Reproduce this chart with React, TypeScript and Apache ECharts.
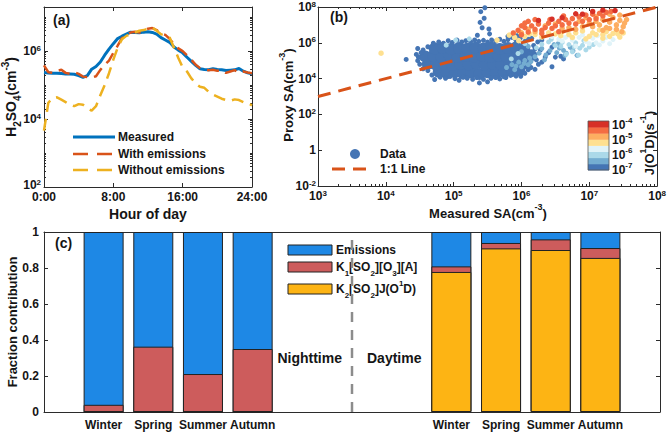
import React, { useEffect, useRef } from 'react';
import * as echarts from 'echarts';

const FONT = '"Liberation Sans", Arial, Helvetica, sans-serif';
const INK = '#151515';
const AXIS = '#2b2b2b';

// ---------- (a) diurnal H2SO4, values are log10(cm^-3) ----------
const hours = [0, 0.5, 1, 1.5, 2, 2.5, 3, 3.5, 4, 4.5, 5, 5.5, 6, 6.5, 7, 7.5, 8, 8.5, 9, 9.5, 10, 10.5, 11, 11.5, 12, 12.5, 13, 13.5, 14, 14.5, 15, 15.5, 16, 16.5, 17, 17.5, 18, 18.5, 19, 19.5, 20, 20.5, 21, 21.5, 22, 22.5, 23, 23.5, 24];
const measuredLog = [5.37, 5.36, 5.35, 5.35, 5.34, 5.33, 5.33, 5.32, 5.28, 5.23, 5.28, 5.47, 5.55, 5.68, 5.88, 6.06, 6.22, 6.37, 6.44, 6.5, 6.56, 6.55, 6.54, 6.56, 6.57, 6.55, 6.5, 6.4, 6.33, 6.26, 6.12, 6.03, 5.95, 5.82, 5.7, 5.58, 5.48, 5.46, 5.45, 5.48, 5.46, 5.45, 5.43, 5.44, 5.45, 5.49, 5.41, 5.36, 5.33];
const withEmissionsLog = [5.58, 5.38, 5.36, 5.42, 5.45, 5.36, 5.33, 5.38, 5.33, 5.25, 5.24, 5.22, 5.26, 5.45, 5.6, 5.72, 5.95, 6.16, 6.38, 6.48, 6.55, 6.57, 6.55, 6.6, 6.66, 6.68, 6.62, 6.52, 6.48, 6.36, 6.2, 6.08, 6.0, 5.88, 5.75, 5.6, 5.5, 5.45, 5.44, 5.45, 5.42, 5.44, 5.36, 5.4, 5.44, 5.36, 5.4, 5.37, 5.35];
const withoutEmissionsLog = [3.66, 4.48, 4.62, 4.64, 4.57, 4.5, 4.42, 4.38, 4.44, 4.42, 4.32, 4.25, 4.38, 4.7, 5.0, 5.35, 5.75, 6.1, 6.35, 6.45, 6.5, 6.55, 6.6, 6.62, 6.66, 6.7, 6.6, 6.5, 6.45, 6.4, 6.1, 5.8, 5.52, 5.4, 5.2, 5.05, 4.95, 4.92, 4.8, 4.72, 4.66, 4.6, 4.56, 4.54, 4.58, 4.56, 4.5, 4.48, 4.4];
const hourTicks = [0, 8, 16, 24];
const hourTickLabels = ['0:00', '8:00', '16:00', '24:00'];
const h2so4Exponents = [2, 4, 6];

// ---------- (b) proxy vs measured SA, values are log10 ----------
const saExponents = [3, 4, 5, 6, 7, 8];
const proxyExponents = [-2, 0, 2, 4, 6, 8];
const jExponents = [-7, -6, -5, -4];
const jColors = ['#4575B4', '#74ADD1', '#ABD9E9', '#E0F3F8', '#FEE090', '#FDAE61', '#F46D43', '#D73027'];
const identityLine = [3, 8];

const blueCore = [
  [4.78, 4.38], [4.9, 4.3], [5.02, 4.36], [5.14, 4.28], [5.26, 4.34], [5.38, 4.26], [5.5, 4.35], [5.62, 4.3], [5.74, 4.38], [5.86, 4.42], [5.97, 4.47],
  [4.62, 4.82], [4.74, 4.78], [4.86, 4.84], [4.98, 4.76], [5.1, 4.82], [5.22, 4.78], [5.34, 4.85], [5.46, 4.77], [5.58, 4.83], [5.7, 4.79], [5.82, 4.84], [5.94, 4.8], [6.06, 4.86],
  [4.58, 5.24], [4.7, 5.28], [4.82, 5.22], [4.94, 5.27], [5.06, 5.21], [5.18, 5.26], [5.3, 5.23], [5.42, 5.28], [5.54, 5.22], [5.66, 5.27], [5.78, 5.24], [5.9, 5.29], [6.02, 5.23], [6.14, 5.3],
  [4.72, 5.68], [4.84, 5.72], [4.96, 5.66], [5.08, 5.71], [5.2, 5.67], [5.32, 5.73], [5.44, 5.68], [5.56, 5.72], [5.68, 5.66], [5.8, 5.71], [5.92, 5.74], [6.04, 5.7],
];
const blueEdge = [
  [4.62, 5.78], [4.7, 5.98], [4.78, 6.05], [4.85, 5.98], [4.92, 6.12], [4.98, 6.02], [5.05, 6.15], [5.12, 6.05], [5.18, 6.12], [5.25, 6.06], [5.31, 6.16], [5.37, 6.08], [5.44, 6.14], [5.5, 6.04], [5.56, 6.16], [5.62, 6.08], [5.68, 6.2], [5.74, 6.08], [5.8, 6.18], [5.86, 6.3], [5.92, 6.14], [5.98, 6.25], [6.05, 6.08], [6.1, 6.2], [5.94, 6.4], [5.8, 6.36],
  [4.55, 4.55], [4.62, 4.45], [4.68, 4.2], [4.72, 3.95], [4.8, 4.08], [4.88, 4.02], [4.95, 4.12], [5.02, 4.0], [5.08, 3.91], [5.14, 4.08], [5.2, 4.02], [5.28, 3.96], [5.34, 4.06], [5.38, 3.76], [5.44, 3.96], [5.5, 3.82], [5.55, 4.02], [5.62, 4.06], [5.68, 3.98], [5.74, 4.1], [5.77, 4.06], [5.84, 4.18], [5.92, 4.14], [5.99, 4.13], [6.05, 4.3], [6.1, 4.5], [6.14, 4.62],
  [4.48, 5.2], [4.47, 5.0], [4.5, 4.8], [4.52, 5.45], [4.55, 5.6], [4.45, 5.35], [4.3, 5.07], [4.47, 5.68],
  [5.46, 7.96], [5.4, 7.74], [5.45, 7.37], [5.39, 7.14], [5.42, 6.84], [5.52, 6.77], [5.53, 6.5], [5.35, 6.42],
  [6.45, 4.66], [6.2, 4.52], [6.25, 4.8], [6.22, 5.05], [6.3, 4.92], [6.35, 5.2], [6.5, 5.2], [6.58, 5.25], [6.62, 5.1], [6.2, 5.35], [6.28, 5.6], [6.18, 5.85], [6.24, 6.05], [6.3, 6.15], [6.4, 5.45], [6.45, 5.75], [6.15, 6.25], [6.2, 5.65],
];
const midBlue = [
  [5.78, 4.62], [5.86, 4.78], [5.9, 4.5], [5.96, 4.92], [6.0, 4.66], [6.05, 5.02], [6.1, 4.78], [6.14, 4.95], [6.2, 5.22], [6.26, 5.42], [6.3, 5.68], [6.36, 5.32], [6.42, 5.56], [6.48, 5.9], [6.52, 5.45],
  [6.56, 5.7], [6.62, 5.58], [6.66, 5.42], [6.72, 5.74], [6.76, 5.55], [6.82, 5.3], [6.64, 5.3], [6.0, 5.5], [6.1, 5.8], [5.92, 4.7], [6.04, 4.85], [6.34, 5.05], [6.54, 5.95], [6.12, 5.15],
];
const lightBlue = [
  [6.3, 5.92], [6.4, 6.05], [6.5, 5.84], [6.6, 6.02], [6.7, 5.9], [6.8, 6.0], [6.86, 5.7], [6.9, 5.86], [6.95, 5.6], [7.0, 5.76], [6.66, 5.36], [6.84, 5.31], [6.75, 5.5],
  [5.03, 6.15], [5.23, 6.22], [4.89, 5.87], [6.22, 5.72], [6.05, 5.95], [5.95, 5.4], [5.85, 5.1], [6.58, 5.8], [6.44, 6.2], [7.06, 5.9], [6.92, 6.12], [6.78, 5.78],
];
const paleBlue = [
  [6.55, 6.2], [6.65, 6.3], [6.75, 6.15], [6.85, 6.3], [6.95, 6.08], [7.05, 6.25], [7.1, 6.0], [7.15, 5.88], [7.2, 6.1], [7.25, 6.3], [7.3, 5.95], [7.0, 5.95], [6.9, 6.45], [6.45, 6.35],
  [7.35, 6.18], [6.6, 6.1], [6.8, 5.82], [7.12, 6.4], [6.7, 6.45],
];
const paleYellow = [
  [3.93, 5.42], [5.64, 6.15], [5.82, 6.43], [5.9, 6.3], [5.96, 6.12], [6.05, 6.36], [6.5, 6.5], [6.6, 6.62], [6.7, 6.46], [6.8, 6.56], [6.9, 6.66], [7.0, 6.36], [7.05, 6.56], [7.1, 6.46],
  [7.15, 6.72], [7.2, 6.46], [7.25, 6.62], [7.3, 6.36], [7.35, 6.52], [7.4, 6.72], [7.45, 6.32], [7.5, 6.55], [6.3, 6.32], [6.2, 6.46], [6.4, 6.56], [6.95, 6.22], [7.2, 6.26], [6.75, 6.3],
  [5.98, 6.6], [6.12, 6.5], [6.58, 6.4], [7.42, 6.5],
];
const lightOrange = [
  [7.0, 7.1], [7.05, 6.9], [7.1, 7.2], [7.15, 7.0], [7.2, 7.3], [7.25, 6.85], [7.3, 7.15], [7.35, 7.4], [7.4, 7.0], [7.45, 7.25], [7.5, 6.9], [7.52, 7.1], [7.4, 6.75], [7.3, 6.8], [7.2, 6.7],
  [6.9, 6.9], [6.8, 6.75], [6.7, 6.85], [6.6, 6.8], [6.2, 6.62], [6.1, 6.76], [6.35, 6.95], [6.0, 6.56], [6.5, 7.05], [7.1, 7.45], [7.3, 7.6], [7.45, 7.55], [6.95, 7.4], [6.85, 7.2], [7.55, 7.3], [7.48, 6.62],
];
const orangeRed = [
  [5.88, 6.55], [5.95, 6.7], [6.0, 6.45], [6.05, 6.85], [6.1, 6.6], [6.15, 6.95], [6.2, 6.75], [6.25, 7.05], [6.3, 6.7], [6.35, 6.85], [6.4, 7.1], [6.45, 6.8], [6.5, 6.95], [6.55, 7.2], [6.6, 7.0],
  [6.65, 7.3], [6.7, 7.1], [6.75, 7.35], [6.8, 7.05], [6.85, 7.45], [6.9, 7.2], [6.95, 7.55], [7.0, 7.3], [7.05, 7.6], [7.1, 7.35], [7.15, 7.65], [7.2, 7.5], [7.25, 7.7], [6.1, 7.2], [6.2, 7.3],
  [6.05, 7.1], [6.3, 6.52], [6.55, 6.62], [6.0, 6.95], [6.42, 7.3], [6.62, 7.5], [7.32, 7.75],
];
const darkRed = [
  [6.25, 7.25], [6.6, 7.4], [6.9, 7.6], [7.05, 7.75], [6.45, 7.32], [7.2, 7.82], [6.8, 7.62], [7.38, 7.8],
];

// ---------- (c) fraction contribution ----------
const seasons = ['Winter', 'Spring', 'Summer', 'Autumn'];
const barPositions = [1, 2, 3, 4, 8, 9, 10, 11];
const k2Share = [0, 0, 0, 0, 0.778, 0.909, 0.9, 0.856];
const k1Share = [0.04, 0.363, 0.211, 0.35, 0.031, 0.03, 0.059, 0.055];
const emissionShare = [0.96, 0.637, 0.789, 0.65, 0.191, 0.061, 0.041, 0.089];
const fractionTicks = [0, 0.2, 0.4, 0.6, 0.8, 1];
const dividerAt = 6;

// ---------- helpers ----------
const lbl = { fontSize: 12, fontWeight: 'bold', fontFamily: FONT, color: INK };
const powRich = {
  b: { ...lbl, lineHeight: 14 },
  s: { ...lbl, fontSize: 8, lineHeight: 8, verticalAlign: 'top' },
  g: { ...lbl, fontSize: 1, lineHeight: 4 },
};
const pow = (e: number) => (e === 0 ? '{b|1}' : `{b|10}{s|${e}}`);

function minorLog(from: number, to: number, max: number, isMajor: (n: number) => boolean) {
  const out: number[] = [];
  for (let n = from; n <= to; n++) {
    for (let k = 1; k <= 9; k++) {
      if (k === 1 && isMajor(n)) continue;
      const v = n + Math.log10(k);
      if (v <= max) out.push(v);
    }
  }
  return out;
}

function mkAxis(gridIndex: number, position: string, min: number, max: number, ticks: number[], opts: any = {}) {
  return {
    type: 'value',
    gridIndex,
    position,
    min,
    max,
    splitLine: { show: false },
    axisPointer: { show: false },
    axisLine: { show: opts.line !== false, onZero: false, lineStyle: { color: AXIS, width: 1 } },
    axisTick: { show: true, inside: true, length: opts.tickLen ?? 4, customValues: ticks, lineStyle: { color: AXIS, width: 1 } },
    axisLabel: opts.label ? { show: true, customValues: ticks, ...lbl, ...opts.label } : { show: false },
  };
}

const tBase = { fontFamily: FONT, fontWeight: 'bold', fill: INK, color: INK };
function richFor(size: number) {
  return {
    t: { ...tBase, fontSize: size, lineHeight: size + 8 },
    sub: { ...tBase, fontSize: size - 4, lineHeight: 10, verticalAlign: 'bottom' },
    sup: { ...tBase, fontSize: size - 4, lineHeight: 10, verticalAlign: 'top' },
    b: { ...tBase, fontSize: size, lineHeight: 18 },
    s: { ...tBase, fontSize: size - 4, lineHeight: 10, verticalAlign: 'top' },
  };
}
function gText(x: number, y: number, text: string, size: number, align = 'center', rot = 0) {
  return {
    type: 'text',
    x,
    y,
    rotation: rot,
    silent: true,
    style: { text, ...tBase, fontSize: size, align, verticalAlign: 'middle', rich: richFor(size) },
  };
}

export default function App() {
  const ref = useRef<HTMLDivElement>(null);

  useEffect(() => {
    if (!ref.current) return;
    const chart = echarts.init(ref.current, null, { renderer: 'svg' });

    const aMinor = minorLog(2, 7, 7.3, (n) => n % 2 === 0);
    const bMinor = minorLog(3, 7, 8, () => true).filter((v) => Math.abs(v - Math.round(v)) > 1e-9);

    // cumulative tops for the stacked columns (bottom: K2, middle: K1, top: emissions)
    const topK2 = k2Share;
    const topK1 = k2Share.map((v, i) => v + k1Share[i]);
    const topAll = topK1.map((v, i) => v + emissionShare[i]);

    const scatterGroups = [
      { data: blueCore, color: jColors[0], size: 12 },
      { data: blueEdge, color: jColors[0], size: 5 },
      { data: midBlue, color: jColors[1], size: 5 },
      { data: lightBlue, color: jColors[2], size: 5 },
      { data: paleBlue, color: jColors[3], size: 5 },
      { data: paleYellow, color: jColors[4], size: 5.5 },
      { data: lightOrange, color: jColors[5], size: 5.5 },
      { data: orangeRed, color: jColors[6], size: 5.5 },
      { data: darkRed, color: jColors[7], size: 5.5 },
    ];

    const cbTop = 121;
    const cbBottom = 170;
    const cbBand = (cbBottom - cbTop) / jColors.length;

    const graphic: any[] = [
      // panel letters
      gText(53, 20, '(a)', 14, 'left'),
      gText(330, 17, '(b)', 14, 'left'),
      gText(55, 243, '(c)', 14, 'left'),
      // axis titles
      gText(148, 214, 'Hour of day', 14),
      gText(488, 213, '{t|Measured SA(cm}{sup|-3}{t|)}', 13),
      gText(11, 97, '{t|H}{sub|2}{t|SO}{sub|4}{t|(cm}{sup|-3}{t|)}', 14, 'center', Math.PI / 2),
      gText(288, 95, '{t|Proxy SA(cm}{sup|-3}{t|)}', 13, 'center', Math.PI / 2),
      gText(12, 322, 'Fraction contribution', 13, 'center', Math.PI / 2),
      gText(649, 143, '{t|J(O}{sup|1}{t|D)(s}{sup|-1}{t|)}', 13, 'center', Math.PI / 2),
      // legend (a)
      { type: 'line', silent: true, shape: { x1: 73, y1: 137, x2: 115, y2: 137 }, style: { stroke: '#0072BD', lineWidth: 3 } },
      { type: 'line', silent: true, shape: { x1: 73, y1: 154, x2: 115, y2: 154 }, style: { stroke: '#D95319', lineWidth: 2.5, lineDash: [15, 9] } },
      { type: 'line', silent: true, shape: { x1: 73, y1: 170, x2: 115, y2: 170 }, style: { stroke: '#EDB120', lineWidth: 2.5, lineDash: [15, 9] } },
      gText(118, 137, 'Measured', 12, 'left'),
      gText(118, 154, 'With emissions', 12, 'left'),
      gText(118, 170, 'Without emissions', 12, 'left'),
      // legend (b)
      { type: 'circle', silent: true, shape: { cx: 355, cy: 154, r: 5 }, style: { fill: jColors[0] } },
      { type: 'line', silent: true, shape: { x1: 332, y1: 169, x2: 368, y2: 169 }, style: { stroke: '#D95319', lineWidth: 3, lineDash: [13, 8] } },
      gText(380, 154, 'Data', 12, 'left'),
      gText(380, 169, '1:1 Line', 12, 'left'),
      // legend (c)
      { type: 'rect', silent: true, shape: { x: 288, y: 245, width: 44, height: 10 }, style: { fill: '#1E88E5', stroke: '#222', lineWidth: 1 } },
      { type: 'rect', silent: true, shape: { x: 288, y: 262, width: 44, height: 10 }, style: { fill: '#CD5C5C', stroke: '#222', lineWidth: 1 } },
      { type: 'rect', silent: true, shape: { x: 288, y: 284, width: 44, height: 10 }, style: { fill: '#FDB414', stroke: '#222', lineWidth: 1 } },
      gText(336, 250, 'Emissions', 12, 'left'),
      gText(336, 267, '{t|K}{sub|1}{t|[SO}{sub|2}{t|][O}{sub|3}{t|][A]}', 12, 'left'),
      gText(336, 289, '{t|K}{sub|2}{t|[SO}{sub|2}{t|]J(O}{sup|1}{t|D)}', 12, 'left'),
      // night / day
      gText(342, 358, 'Nighttime', 14, 'right'),
      gText(367, 358, 'Daytime', 14, 'left'),
    ];
    jColors.forEach((c, i) => {
      graphic.push({
        type: 'rect',
        silent: true,
        shape: { x: 588, y: cbBottom - (i + 1) * cbBand, width: 21, height: cbBand + 0.4 },
        style: { fill: c },
      });
    });
    graphic.push({ type: 'rect', silent: true, shape: { x: 588, y: cbTop, width: 21, height: cbBottom - cbTop }, style: { fill: 'none', stroke: '#555', lineWidth: 0.8 } });
    jExponents.forEach((e) => {
      graphic.push(gText(612, cbBottom - (e + 7) * 15, pow(e), 12, 'left'));
    });

    const lineSeries = (data: number[], color: string, width: number, dash: any) => ({
      type: 'line',
      xAxisIndex: 0,
      yAxisIndex: 0,
      data: hours.map((h, i) => [h, data[i]]),
      showSymbol: false,
      symbol: 'none',
      silent: true,
      lineStyle: { color, width, type: dash },
    });

    const barSeries = (tops: number[], color: string) => ({
      type: 'bar',
      xAxisIndex: 6,
      yAxisIndex: 6,
      barWidth: 40,
      barGap: '-100%',
      silent: true,
      data: barPositions.map((p, i) => [p, tops[i]]),
      itemStyle: { color, borderColor: '#222', borderWidth: 1 },
    });

    const option: any = {
      animation: false,
      backgroundColor: '#ffffff',
      textStyle: { fontFamily: FONT },
      grid: [
        { left: 44, top: 7, width: 208, height: 180 },
        { left: 318, top: 7, width: 341, height: 179 },
        { left: 44, top: 232, width: 616, height: 180 },
      ],
      xAxis: [
        mkAxis(0, 'bottom', 0, 24, hourTicks, { label: { margin: 4, formatter: (v: number) => hourTickLabels[hourTicks.indexOf(v)] } }),
        mkAxis(0, 'top', 0, 24, hourTicks),
        mkAxis(1, 'bottom', 3, 8, saExponents, { label: { margin: 3, formatter: (v: number) => pow(v), rich: powRich } }),
        mkAxis(1, 'top', 3, 8, saExponents),
        mkAxis(1, 'bottom', 3, 8, bMinor, { line: false, tickLen: 2 }),
        mkAxis(1, 'top', 3, 8, bMinor, { line: false, tickLen: 2 }),
        mkAxis(2, 'bottom', -0.2, 12.2, barPositions, {
          label: { margin: 7, formatter: (v: number) => seasons[barPositions.indexOf(v) % 4] },
        }),
        mkAxis(2, 'top', -0.2, 12.2, barPositions),
      ],
      yAxis: [
        mkAxis(0, 'left', 2, 7.3, h2so4Exponents, {
          label: { margin: 3, formatter: (v: number) => (v === 2 ? `${pow(v)}\n{g|}` : pow(v)), rich: powRich },
        }),
        mkAxis(0, 'right', 2, 7.3, h2so4Exponents),
        mkAxis(0, 'left', 2, 7.3, aMinor, { line: false, tickLen: 2 }),
        mkAxis(0, 'right', 2, 7.3, aMinor, { line: false, tickLen: 2 }),
        mkAxis(1, 'left', -2, 8, proxyExponents, { label: { margin: 2, formatter: (v: number) => pow(v), rich: powRich } }),
        mkAxis(1, 'right', -2, 8, proxyExponents),
        mkAxis(2, 'left', 0, 1, fractionTicks, { label: { margin: 5, formatter: (v: number) => String(+v.toFixed(1)) } }),
        mkAxis(2, 'right', 0, 1, fractionTicks),
      ],
      series: [
        lineSeries(measuredLog, '#0072BD', 3, 'solid'),
        lineSeries(withEmissionsLog, '#D95319', 2.5, [12, 7]),
        lineSeries(withoutEmissionsLog, '#EDB120', 2.5, [12, 7]),
        ...scatterGroups.map((g) => ({
          type: 'scatter',
          xAxisIndex: 2,
          yAxisIndex: 4,
          data: g.data,
          symbol: 'circle',
          symbolSize: g.size,
          silent: true,
          itemStyle: { color: g.color, opacity: 1 },
        })),
        {
          type: 'line',
          xAxisIndex: 2,
          yAxisIndex: 4,
          data: identityLine.map((v) => [v, v]),
          symbol: 'none',
          silent: true,
          z: 5,
          lineStyle: { color: '#D95319', width: 3, type: [13, 8] },
        },
        barSeries(topAll, '#1E88E5'),
        barSeries(topK1, '#CD5C5C'),
        barSeries(topK2, '#FDB414'),
        {
          type: 'line',
          xAxisIndex: 6,
          yAxisIndex: 6,
          data: [[dividerAt, 0], [dividerAt, 1]],
          symbol: 'none',
          silent: true,
          lineStyle: { color: '#8c8c8c', width: 2.5, type: [10, 8] },
        },
      ],
      graphic: { elements: graphic },
    };

    chart.setOption(option);
    return () => chart.dispose();
  }, []);

  return (
    <div
      ref={ref}
      style={{ position: 'fixed', left: 0, top: 0, width: 669, height: 433, background: '#fff' }}
    />
  );
}
